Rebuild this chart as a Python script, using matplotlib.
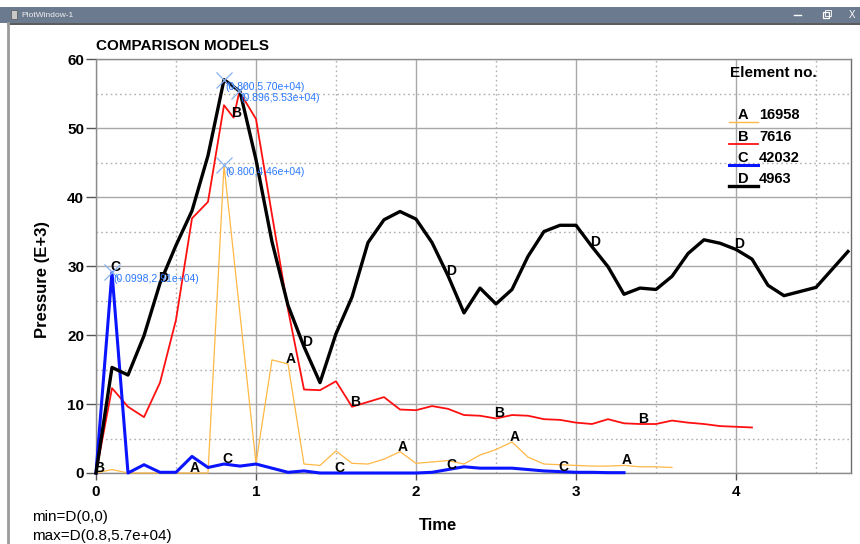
import numpy as np
import matplotlib
matplotlib.use("Agg")
import matplotlib.pyplot as plt
from matplotlib.patches import Rectangle
from matplotlib.ticker import MultipleLocator

plt.rcParams['font.family'] = ['Liberation Sans', 'DejaVu Sans']

# ---- data: pressure histories (E+3) for four elements ----
time_a = [0.0, 0.1, 0.2, 0.3, 0.4, 0.5, 0.6, 0.7, 0.8, 1.0, 1.1, 1.2, 1.3, 1.4,
          1.5, 1.6, 1.7, 1.8, 1.9, 2.0, 2.1, 2.2, 2.3, 2.4, 2.5, 2.6, 2.7, 2.8,
          2.9, 3.0, 3.1, 3.2, 3.3, 3.4, 3.5, 3.6]
press_a = [0.0, 0.5, 0.0, 0.0, 0.0, 0.0, 0.0, 0.0, 44.6, 1.4, 16.4, 15.8, 1.3, 1.1,
           3.2, 1.4, 1.3, 2.0, 3.1, 1.4, 1.6, 1.8, 1.3, 2.6, 3.4, 4.5, 2.3, 1.3,
           1.2, 1.1, 1.0, 1.0, 1.1, 0.9, 0.9, 0.8]

time_b = [0.0, 0.1, 0.2, 0.3, 0.4, 0.5, 0.6, 0.7, 0.8, 0.86, 0.896, 1.0, 1.1, 1.2,
          1.3, 1.4, 1.5, 1.6, 1.7, 1.8, 1.9, 2.0, 2.1, 2.2, 2.3, 2.4, 2.5, 2.6,
          2.7, 2.8, 2.9, 3.0, 3.1, 3.2, 3.3, 3.4, 3.5, 3.6, 3.7, 3.8, 3.9, 4.0, 4.1]
press_b = [0.0, 12.3, 9.6, 8.1, 13.1, 22.2, 36.9, 39.3, 53.3, 51.5, 55.3, 51.3, 37.4, 23.7,
           12.1, 12.0, 13.3, 9.6, 10.3, 11.0, 9.2, 9.1, 9.7, 9.3, 8.4, 8.3, 7.9, 8.4,
           8.3, 7.8, 7.7, 7.3, 7.1, 7.8, 7.2, 7.1, 7.1, 7.6, 7.3, 7.1, 6.8, 6.7, 6.6]

time_c = [0.0, 0.0998, 0.2, 0.3, 0.4, 0.5, 0.6, 0.7, 0.8, 0.9, 1.0, 1.1, 1.2, 1.3,
          1.4, 1.5, 1.6, 1.7, 1.8, 1.9, 2.0, 2.1, 2.2, 2.3, 2.4, 2.5, 2.6, 2.7,
          2.8, 2.9, 3.0, 3.1, 3.2, 3.3]
press_c = [0.0, 29.1, 0.0, 1.2, 0.1, 0.1, 2.4, 0.8, 1.3, 1.0, 1.3, 0.7, 0.1, 0.3,
           0.0, 0.0, 0.0, 0.0, 0.0, 0.0, 0.0, 0.1, 0.5, 0.9, 0.7, 0.7, 0.7, 0.5,
           0.3, 0.2, 0.1, 0.1, 0.05, 0.05]

time_d = [0.0, 0.1, 0.2, 0.3, 0.4, 0.5, 0.6, 0.7, 0.8, 0.9, 1.0, 1.1, 1.2, 1.3,
          1.4, 1.5, 1.6, 1.7, 1.8, 1.9, 2.0, 2.1, 2.2, 2.3, 2.4, 2.5, 2.6, 2.7,
          2.8, 2.9, 3.0, 3.1, 3.2, 3.3, 3.4, 3.5, 3.6, 3.7, 3.8, 3.9, 4.0, 4.1,
          4.2, 4.3, 4.4, 4.5, 4.6, 4.7]
press_d = [0.0, 15.3, 14.2, 19.9, 27.5, 33.0, 38.0, 46.0, 57.0, 55.3, 45.4, 33.5, 24.3, 18.3,
           13.1, 20.2, 25.5, 33.4, 36.7, 37.9, 36.8, 33.4, 28.6, 23.2, 26.8, 24.5, 26.6, 31.4,
           35.0, 35.9, 35.9, 32.8, 29.9, 25.9, 26.8, 26.6, 28.5, 31.8, 33.8, 33.3, 32.4, 31.0,
           27.2, 25.7, 26.3, 26.9, 29.5, 32.1]

curve_letters = ['A', 'B', 'C', 'D']
element_ids = ['16958', '7616', '42032', '4963']
curve_colors = ['#ffb845', '#ff1010', '#0a14ff', '#000000']
curve_widths = [0.9, 1.3, 2.2, 2.4]
letter_times = [
    [0.6, 1.2, 1.9, 2.6, 3.3],
    [0.0, 0.86, 1.6, 2.5, 3.4],
    [0.0998, 0.8, 1.5, 2.2, 2.9],
    [0.4, 1.3, 2.2, 3.1, 4.0],
]
x_ticks = [0, 1, 2, 3, 4]
y_ticks = [0, 10, 20, 30, 40, 50, 60]

series = [(time_a, press_a), (time_b, press_b), (time_c, press_c), (time_d, press_d)]

W, H = 860, 544
fig = plt.figure(figsize=(W / 100, H / 100), dpi=100, facecolor='white')

# pixel-space overlay for the window frame and free text
bg = fig.add_axes([0, 0, 1, 1], zorder=0)
bg.set_xlim(0, W)
bg.set_ylim(H, 0)
bg.axis('off')

bg.add_patch(Rectangle((0, 7), W, 16, color='#6b7a8e', lw=0))
bg.plot([8, W], [24, 24], color='#3c3c3c', lw=1.2)
bg.plot([8, 8], [23, H], color='#9a9a9a', lw=2)
bg.add_patch(Rectangle((11, 10), 6, 9, facecolor='#c8c8c8', edgecolor='#555555', lw=0.5))
bg.text(21, 15.5, 'PlotWindow-1', color='#f0f0f0', fontsize=6, va='center', ha='left')
bg.plot([794, 801], [15, 15], color='white', lw=1)
bg.add_patch(Rectangle((823, 12), 6, 6, facecolor='none', edgecolor='white', lw=0.9))
bg.add_patch(Rectangle((825, 10), 6, 6, facecolor='none', edgecolor='white', lw=0.6))
bg.text(852, 15.5, 'X', color='white', fontsize=7, va='center', ha='center')

# main plot area
left, right, top, bottom = 96, 851, 59, 473
ax = fig.add_axes([left / W, 1 - bottom / H, (right - left) / W, (bottom - top) / H], zorder=1)
ax.patch.set_alpha(0)
ax.set_xlim(0, (right - left) / 160)
ax.set_ylim(0, 60)

ax.set_xticks(x_ticks)
ax.set_yticks(y_ticks)
ax.xaxis.set_minor_locator(MultipleLocator(0.5))
ax.yaxis.set_minor_locator(MultipleLocator(5))
ax.grid(which='major', color='#a8a8a8', lw=1, ls='-')
ax.grid(which='minor', color='#b0b0b0', lw=1, ls=(0, (1.2, 2.2)))
ax.set_axisbelow(True)
for s in ax.spines.values():
    s.set_color('#8c8c8c')
    s.set_linewidth(1)
ax.spines['right'].set_color('#6e6e6e')
ax.tick_params(which='minor', length=0)
ax.tick_params(axis='y', which='major', length=7, width=1, color='#555555', pad=1.5,
               labelsize=11)
ax.tick_params(axis='x', which='major', length=5, width=1, color='#555555', pad=3.5,
               labelsize=11)
for lab in ax.get_xticklabels() + ax.get_yticklabels():
    lab.set_fontweight('bold')

for (t, p), col, lw in zip(series, curve_colors, curve_widths):
    ax.plot(t, p, color=col, lw=lw, clip_on=False, zorder=3)

# curve identification letters
for (t, p), letter, lts in zip(series, curve_letters, letter_times):
    t_arr = np.asarray(t)
    for lt in lts:
        i = int(np.argmin(np.abs(t_arr - lt)))
        ax.annotate(letter, (t[i], p[i]), xytext=(3, 5), textcoords='offset pixels',
                    ha='center', va='center', fontsize=10, fontweight='bold',
                    color='black', zorder=5, annotation_clip=False)

# peak markers with coordinates
for t, p in series:
    i = int(np.argmax(p))
    ax.plot(t[i], p[i], marker='x', ms=11, mew=0.9, color='#86b0f0', zorder=6)
    ax.annotate(f"({t[i]:#.3g},{p[i] * 1000:.2e})", (t[i], p[i]), xytext=(1, -7),
                textcoords='offset pixels', ha='left', va='center', fontsize=7.5,
                color='#2a78ff', zorder=6)

# legend drawn in pixel space
ax.text(730, 73, 'Element no.', transform=bg.transData, fontsize=11, fontweight='bold',
        ha='left', va='center', zorder=7)
row_y = [115, 137, 158, 179]
for letter, eid, col, lw, ry in zip(curve_letters, element_ids, curve_colors, curve_widths, row_y):
    ax.plot([729, 758], [ry + 6.5, ry + 6.5], transform=bg.transData, color=col,
            lw=max(lw, 1.0), clip_on=False, zorder=7)
    ax.text(743, ry, letter, transform=bg.transData, fontsize=10.5, fontweight='bold',
            ha='center', va='center', zorder=7)
    ax.text(759, ry, eid, transform=bg.transData, fontsize=10.5, fontweight='bold',
            ha='left', va='center', zorder=7)

# titles and axis labels
bg.text(96, 46, 'COMPARISON MODELS', fontsize=11, fontweight='bold', ha='left', va='center')
bg.text(43, 280, 'Pressure (E+3)', fontsize=12, fontweight='bold', rotation=90,
        ha='center', va='center')
bg.text(438, 526, 'Time', fontsize=12, fontweight='bold', ha='center', va='center')

# extreme-value summary
dmax = int(np.argmax(press_d))
dmin = int(np.argmin(press_d))
bg.text(32, 517, f"min=D({time_d[dmin]:g},{press_d[dmin]:g})", fontsize=11,
        ha='left', va='center')
bg.text(32, 536, f"max=D({time_d[dmax]:g},{press_d[dmax] * 1000:.1e})", fontsize=11,
        ha='left', va='center')

fig.savefig('out.png', dpi=100, facecolor='white')
